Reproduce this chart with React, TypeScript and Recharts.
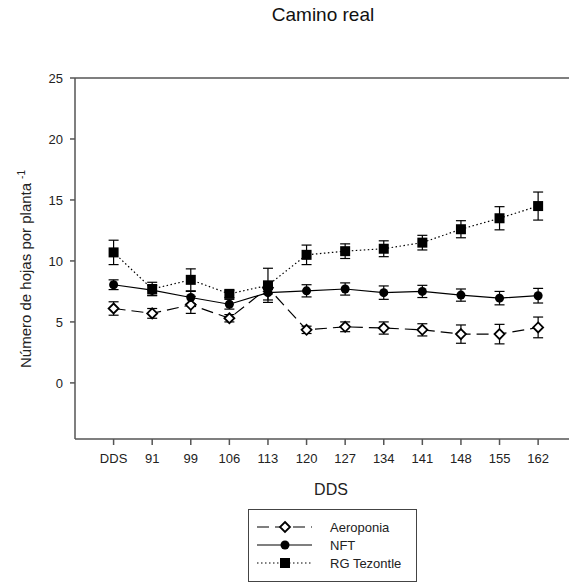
import { ComposedChart, Line, XAxis, YAxis, ErrorBar, ReferenceLine } from 'recharts'

const days = ['DDS', '91', '99', '106', '113', '120', '127', '134', '141', '148', '155', '162']

const aeroponia = [6.1, 5.7, 6.4, 5.3, 7.8, 4.35, 4.6, 4.5, 4.35, 4.0, 4.0, 4.55]
const aeroponiaErr = [0.55, 0.4, 0.7, 0.3, 0.5, 0.3, 0.4, 0.5, 0.5, 0.75, 0.8, 0.85]

const nft = [8.05, 7.6, 7.0, 6.45, 7.4, 7.55, 7.7, 7.4, 7.5, 7.2, 6.95, 7.15]
const nftErr = [0.4, 0.4, 0.5, 0.4, 0.6, 0.5, 0.5, 0.55, 0.5, 0.5, 0.55, 0.6]

const rg = [10.7, 7.7, 8.45, 7.3, 8.0, 10.5, 10.8, 11.0, 11.5, 12.6, 13.5, 14.5]
const rgErr = [1.0, 0.55, 0.9, 0.3, 1.4, 0.8, 0.6, 0.65, 0.6, 0.7, 0.95, 1.15]

const yTicks = [0, 5, 10, 15, 20, 25]

const font = '"Liberation Sans", Arial, sans-serif'
const axisColor = '#555'

const data = days.map((d, i) => ({
  idx: i,
  aero: aeroponia[i],
  aeroErr: aeroponiaErr[i],
  nft: nft[i],
  nftErr: nftErr[i],
  rg: rg[i],
  rgErr: rgErr[i],
}))

function Diamond({ cx, cy }: { cx: number; cy: number }) {
  const r = 5
  return (
    <path
      d={`M${cx},${cy - r}L${cx + r},${cy}L${cx},${cy + r}L${cx - r},${cy}Z`}
      fill="#fff"
      stroke="#000"
      strokeWidth={1.8}
    />
  )
}

function Circle({ cx, cy }: { cx: number; cy: number }) {
  return <circle cx={cx} cy={cy} r={4.5} fill="#000" />
}

function Square({ cx, cy }: { cx: number; cy: number }) {
  return <rect x={cx - 5} y={cy - 5} width={10} height={10} fill="#000" />
}

function YLabel() {
  return (
    <text
      transform="translate(31, 269) rotate(-90)"
      textAnchor="middle"
      fontFamily={font}
      fontSize={15}
      fill="#222"
    >
      Número de hojas por planta
      <tspan dx={4} dy={-6} fontSize={10}>-1</tspan>
    </text>
  )
}

function Legend() {
  const rows = [
    { name: 'Aeroponia', dash: '12 6', shape: 'diamond' },
    { name: 'NFT', dash: undefined, shape: 'circle' },
    { name: 'RG Tezontle', dash: '1.5 2.5', shape: 'square' },
  ]
  return (
    <svg
      width={170}
      height={74}
      style={{ position: 'absolute', left: 248, top: 509 }}
    >
      <rect x={0.5} y={0.5} width={168} height={72} fill="#fff" stroke="#444" />
      {rows.map((r, i) => {
        const y = 18 + i * 18
        return (
          <g key={r.name}>
            <line x1={9} x2={64} y1={y} y2={y} stroke="#000" strokeWidth={1.2} strokeDasharray={r.dash} />
            {r.shape === 'diamond' && <Diamond cx={37} cy={y} />}
            {r.shape === 'circle' && <Circle cx={37} cy={y} />}
            {r.shape === 'square' && <Square cx={37} cy={y} />}
            <text x={82} y={y + 5} fontFamily={font} fontSize={13} fill="#222">
              {r.name}
            </text>
          </g>
        )
      })}
    </svg>
  )
}

export default function App() {
  return (
    <div style={{ position: 'absolute', left: 0, top: 0, width: 569, height: 586, background: '#fff' }}>
      <div
        style={{
          position: 'absolute',
          left: 0,
          width: 646,
          top: 4,
          textAlign: 'center',
          fontFamily: font,
          fontSize: 19,
          color: '#111',
        }}
      >
        Camino real
      </div>
      <ComposedChart
        width={569}
        height={586}
        data={data}
        margin={{ top: 78, right: 0, bottom: 87, left: 0 }}
      >
        <XAxis
          dataKey="idx"
          type="number"
          domain={[-1, 11.8]}
          ticks={days.map((_, i) => i)}
          tickFormatter={(v: number) => days[v]}
          height={60}
          stroke={axisColor}
          strokeWidth={1.5}
          tickSize={6}
          tick={{ fill: '#222', fontSize: 13, fontFamily: font }}
          tickMargin={9}
          label={{ value: 'DDS', position: 'insideBottom', offset: 4, dx: 9, fill: '#222', fontSize: 16, fontFamily: font }}
        />
        <YAxis
          type="number"
          domain={[-4.6, 25]}
          ticks={yTicks}
          width={75}
          stroke={axisColor}
          strokeWidth={1.5}
          tickSize={5}
          tick={{ fill: '#222', fontSize: 13, fontFamily: font }}
          tickMargin={7}
          label={<YLabel />}
        />
        <ReferenceLine y={25} stroke={axisColor} strokeWidth={1.5} />
        <Line
          dataKey="aero"
          stroke="#000"
          strokeWidth={1.2}
          strokeDasharray="12 6"
          isAnimationActive={false}
          dot={(p: any) => <Diamond key={p.index} cx={p.cx} cy={p.cy} />}
        >
          <ErrorBar dataKey="aeroErr" width={5} stroke="#000" strokeWidth={1.2} direction="y" />
        </Line>
        <Line
          dataKey="nft"
          stroke="#000"
          strokeWidth={1.2}
          isAnimationActive={false}
          dot={(p: any) => <Circle key={p.index} cx={p.cx} cy={p.cy} />}
        >
          <ErrorBar dataKey="nftErr" width={5} stroke="#000" strokeWidth={1.2} direction="y" />
        </Line>
        <Line
          dataKey="rg"
          stroke="#000"
          strokeWidth={1.2}
          strokeDasharray="1.5 2.5"
          isAnimationActive={false}
          dot={(p: any) => <Square key={p.index} cx={p.cx} cy={p.cy} />}
        >
          <ErrorBar dataKey="rgErr" width={5} stroke="#000" strokeWidth={1.2} direction="y" />
        </Line>
      </ComposedChart>
      <Legend />
    </div>
  )
}
